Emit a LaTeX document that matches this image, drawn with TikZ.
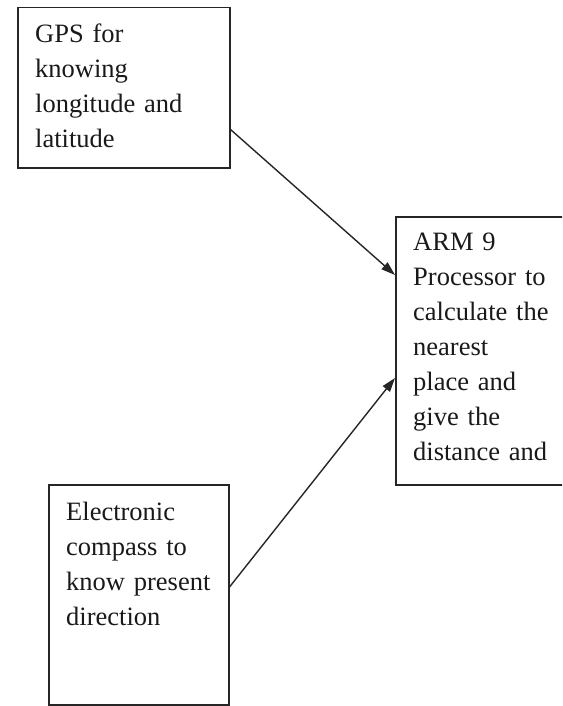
\documentclass[tikz,border=0pt]{standalone}
\usepackage{fontspec}
\setmainfont{Liberation Serif}
\usetikzlibrary{arrows.meta,calc}
\begin{document}
\begin{tikzpicture}[x=1pt,y=1pt,
  box/.style={draw=black!85,line width=1.5pt,rectangle,inner sep=0pt,anchor=north west},
  lbl/.style={anchor=base west,inner sep=0pt,align=left,text width=200pt,font=\fontsize{26.5}{35}\selectfont,text=black!90},
  conn/.style={draw=black!85,line width=1.4pt,-{Triangle[length=14pt,width=9pt]}}]
\useasboundingbox (0,0) rectangle (562,-706);
\clip (0,0) rectangle (562,-706);
\node[box,minimum width=212pt,minimum height=160pt] (b1) at (17,-7) {};
\node[box,minimum width=175pt,minimum height=268pt] (b2) at (395,-216) {};
\node[box,minimum width=180pt,minimum height=220pt] (b3) at (48,-484) {};
\node[lbl] (t1) at (35,-43) {GPS for\\knowing\\longitude and\\latitude};
\node[lbl] (t2) at (413,-250) {ARM 9\\Processor to\\calculate the\\nearest\\place and\\give the\\distance and};
\node[lbl] (t3) at (66,-520) {Electronic\\compass to\\know present\\direction};
\coordinate (s1) at ($(b1.south east)+(0,39)$);
\coordinate (e1) at ($(b2.north west)+(0,-59)$);
\coordinate (s2) at ($(b3.north east)+(0,-103)$);
\coordinate (e2) at ($(b2.north west)+(0,-162)$);
\draw[conn] (s1) -- (e1);
\draw[conn] (s2) -- (e2);
\end{tikzpicture}
\end{document}
